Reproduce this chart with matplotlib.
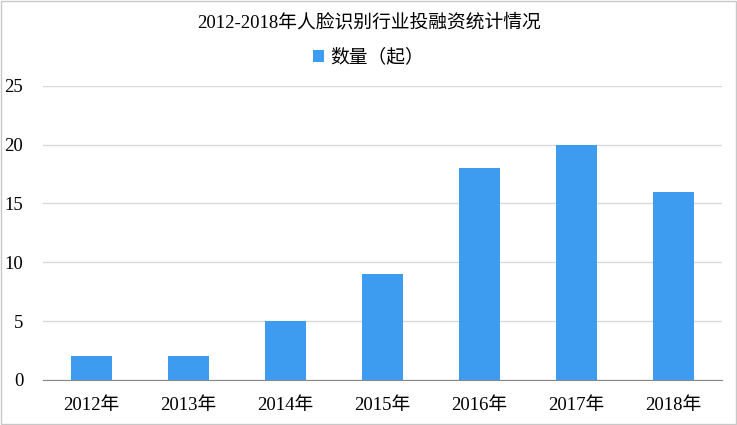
import matplotlib.pyplot as plt
import numpy as np

plt.rcParams['font.family'] = ['Liberation Serif', 'Noto Sans CJK SC']

years = ['2012年', '2013年', '2014年', '2015年', '2016年', '2017年', '2018年']
counts = [2, 2, 5, 9, 18, 20, 16]
title = '2012-2018年人脸识别行业投融资统计情况'
series_name = '数量（起）'

fig = plt.figure(figsize=(7.37, 4.25), dpi=100)
ax = fig.add_axes([0.058, 0.106, 0.922, 0.692])

x = np.arange(len(years))
bars = ax.bar(x, counts, width=0.42, color='#3D9CF0', label=series_name, zorder=3)

ax.set_xlim(-0.5, len(years) - 0.5)
ax.set_ylim(0, 25)
ax.set_yticks(range(0, 26, 5))
ax.set_xticks(x)
ax.set_xticklabels(years)
ax.tick_params(axis='both', length=0, labelsize=13.5, colors='black')
ax.tick_params(axis='x', pad=12)
ax.tick_params(axis='y', pad=14)
ax.grid(axis='y', color='#D9D9D9', linewidth=1, zorder=0)

for s in ['top', 'right', 'left']:
    ax.spines[s].set_visible(False)
ax.spines['bottom'].set_color('#898989')
ax.spines['bottom'].set_zorder(4)

fig.text(0.5, 0.948, title, ha='center', va='center', fontsize=13.5)
fig.legend(handles=[bars], labels=[series_name], loc='center', bbox_to_anchor=(0.5, 0.865),
           frameon=False, fontsize=13.5, handlelength=0.6, handleheight=0.6, handletextpad=0.3)

# outer border
fig.patches.append(plt.Rectangle((0.001, 0.002), 0.997, 0.996, transform=fig.transFigure,
                                 fill=False, edgecolor='#C8C8C8', linewidth=1))

fig.savefig('out.png', dpi=100)
